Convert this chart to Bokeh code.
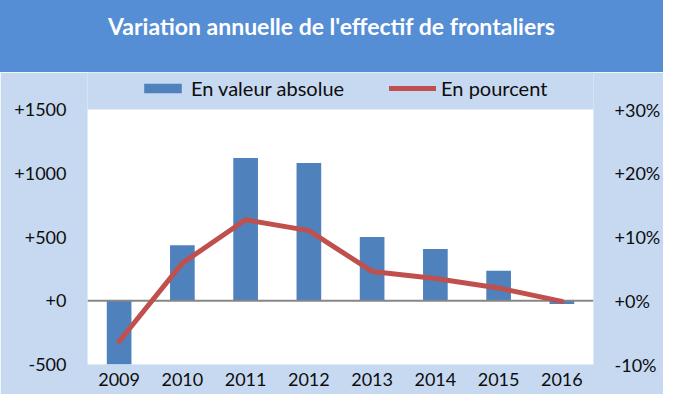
from bokeh.plotting import figure
from bokeh.models import (Range1d, LinearAxis, FixedTicker, CustomJSTickFormatter,
                          Span, Legend, LegendItem, Div, ColumnDataSource, FactorRange,
                          BoxAnnotation)
from bokeh.layouts import column
from bokeh.embed import file_html
from bokeh.resources import INLINE

# ---- data ----
years = ["2009", "2010", "2011", "2012", "2013", "2014", "2015", "2016"]
absolute = [-500, 435, 1120, 1080, 500, 405, 235, -25]
percent = [-6.4, 5.9, 12.7, 11.0, 4.6, 3.5, 2.0, -0.1]
left_ticks = [-500, 0, 500, 1000, 1500]
right_ticks = [-10, 0, 10, 20, 30]
title_text = "Variation annuelle de l'effectif de frontaliers"
bar_label = "En valeur absolue"
line_label = "En pourcent"

FONT = "Lato"
LIGHT = "#C6D9F1"
DARK = "#558ED5"
TXT = "#0D0D0D"

W = 663
TITLE_H = 72
FIG_H = 322
TOP_BAND = 37      # light-blue strip above the white plot area (holds the legend)
BOTTOM_B = 30
AREA_H = FIG_H - TOP_BAND - BOTTOM_B   # white plot area height

# extend ranges upward so the legend strip is part of the frame
l_lo, l_hi = left_ticks[0], left_ticks[-1]
r_lo, r_hi = right_ticks[0], right_ticks[-1]
l_top = l_hi + TOP_BAND * (l_hi - l_lo) / AREA_H
r_top = r_hi + TOP_BAND * (r_hi - r_lo) / AREA_H

src = ColumnDataSource(dict(year=years, absolute=absolute, percent=percent))

title_div = Div(
    text=('<div style="width:%dpx;height:%dpx;background:%s;color:#ffffff;'
          'font-family:Lato;font-weight:bold;font-size:23px;text-align:center;'
          'padding-top:10px;box-sizing:border-box;">%s</div>') % (W, TITLE_H, DARK, title_text),
    width=W, height=TITLE_H, margin=(0, 0, 0, 0))

p = figure(width=W, height=FIG_H, x_range=FactorRange(*years),
           y_range=Range1d(l_lo, l_top), output_backend="svg", toolbar_location=None,
           background_fill_color=LIGHT, border_fill_color=LIGHT,
           min_border_left=87, min_border_right=65, min_border_top=0,
           min_border_bottom=BOTTOM_B, outline_line_color=None)
p.extra_y_ranges = {"pct": Range1d(r_lo, r_top)}

area = BoxAnnotation(bottom=l_lo, top=l_hi, fill_color="white", fill_alpha=1,
                     line_color=None, level="underlay")
p.add_layout(area)

p.xgrid.grid_line_color = None
p.ygrid.ticker = FixedTicker(ticks=left_ticks[1:-1])
p.ygrid.grid_line_color = "#E0E0E0"
p.ygrid.grid_line_width = 1
p.ygrid.level = "underlay"

bars = p.vbar(x="year", top="absolute", width=0.39, source=src,
              fill_color="#4F81BD", line_color=None)
zero = Span(location=0, dimension="width", line_color="#868686", line_width=2,
            level="glyph")
p.renderers.append(zero)
line = p.line(x="year", y="percent", source=src, y_range_name="pct",
              line_color="#C0504D", line_width=5, line_join="round", line_cap="round")

# axes
for ax in (p.xaxis[0], p.yaxis[0]):
    ax.axis_line_color = None
    ax.major_tick_line_color = None
    ax.minor_tick_line_color = None
    ax.major_tick_out = 0
    ax.major_tick_in = 0
    ax.minor_tick_out = 0
    ax.major_label_text_font = FONT
    ax.major_label_text_font_size = "18px"
    ax.major_label_text_color = TXT

p.xaxis.major_label_standoff = 8

p.yaxis.ticker = FixedTicker(ticks=left_ticks)
p.yaxis.formatter = CustomJSTickFormatter(
    code="return (tick >= 0 ? '+' : '') + tick.toFixed(0);")
p.yaxis.major_label_standoff = 21

raxis = LinearAxis(y_range_name="pct", ticker=FixedTicker(ticks=right_ticks),
                   formatter=CustomJSTickFormatter(
                       code="return (tick >= 0 ? '+' : '') + tick.toFixed(0) + '%';"),
                   axis_line_color=None, major_tick_line_color=None,
                   minor_tick_line_color=None, major_tick_out=0, major_tick_in=0,
                   minor_tick_out=0, major_label_standoff=21,
                   major_label_text_font=FONT, major_label_text_font_size="18px",
                   major_label_text_color=TXT)
p.add_layout(raxis, "right")

legend = Legend(items=[LegendItem(label=bar_label, renderers=[bars]),
                       LegendItem(label=line_label, renderers=[line])],
                orientation="horizontal", location=(52, AREA_H + TOP_BAND - 28),
                background_fill_alpha=0, border_line_color=None,
                label_text_font=FONT, label_text_font_size="20px",
                label_text_color=TXT,
                glyph_width=47, glyph_height=12, label_standoff=5, spacing=45,
                padding=0, margin=0)
p.add_layout(legend, "center")

layout = column(title_div, p, spacing=0)

open("out.html", "w").write(file_html(layout, INLINE))
